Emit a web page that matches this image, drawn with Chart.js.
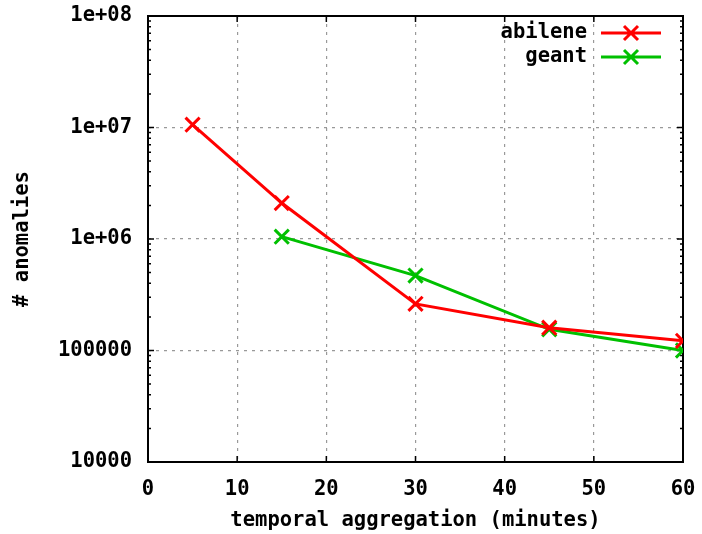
<!DOCTYPE html>
<html>
<head>
<meta charset="utf-8">
<script src="https://cdn.jsdelivr.net/npm/chart.js@4/dist/chart.umd.min.js"></script>
<style>
  html, body { margin: 0; padding: 0; background: #fff; }
  #wrap { width: 702px; height: 534px; }
</style>
</head>
<body>
<div id="wrap"><canvas id="anomalyChart" width="702" height="534"></canvas></div>
<script>
// values
const abileneX = [5, 15, 30, 45, 60];
const abileneY = [1.06e7, 2.1e6, 2.62e5, 1.6e5, 1.22e5];
const geantX = [15, 30, 45, 60];
const geantY = [1.05e6, 4.7e5, 1.55e5, 1.0e5];

const yTickValues = [1e4, 1e5, 1e6, 1e7, 1e8];
const yTickLabels = ['10000', '100000', '1e+06', '1e+07', '1e+08'];

const FONT = 'DejaVu Sans Mono';
const fontSpec = { family: FONT, size: 20.5, weight: 'bold' };

function toPoints(xs, ys) {
  return xs.map((x, i) => ({ x: x, y: ys[i] }));
}

// gnuplot-like frame: border, inward ticks on all sides, minor log ticks
const framePlugin = {
  id: 'frame',
  beforeDatasetsDraw(chart) {
    const { ctx, chartArea: a, scales } = chart;
    const xs = scales.x, ys = scales.y;
    ctx.save();
    ctx.strokeStyle = '#000';
    ctx.lineWidth = 2;
    ctx.strokeRect(a.left, a.top, a.right - a.left, a.bottom - a.top);

    ctx.lineWidth = 1.5;
    ctx.beginPath();
    for (let v = 0; v <= 60; v += 10) {
      const px = xs.getPixelForValue(v);
      ctx.moveTo(px, a.bottom); ctx.lineTo(px, a.bottom - 6);
      ctx.moveTo(px, a.top); ctx.lineTo(px, a.top + 6);
    }
    for (let d = 1e4; d <= 1e8; d *= 10) {
      for (let m = 1; m < 10; m++) {
        const v = d * m;
        if (v > 1e8) break;
        const py = ys.getPixelForValue(v);
        const len = m === 1 ? 6 : 3;
        ctx.moveTo(a.left, py); ctx.lineTo(a.left + len, py);
        ctx.moveTo(a.right, py); ctx.lineTo(a.right - len, py);
      }
    }
    ctx.stroke();
    ctx.restore();
  },
  afterDatasetsDraw(chart) {
    // legend in the upper right corner of the plot
    const { ctx, chartArea: a } = chart;
    ctx.save();
    ctx.font = 'bold 20.5px "' + FONT + '"';
    ctx.textAlign = 'right';
    ctx.textBaseline = 'middle';
    chart.data.datasets.forEach((ds, i) => {
      const y = a.top + 17 + i * 24;
      ctx.fillStyle = '#000';
      ctx.fillText(ds.label, a.right - 96, y);
      ctx.strokeStyle = ds.borderColor;
      ctx.lineWidth = 3;
      ctx.beginPath();
      ctx.moveTo(a.right - 82, y);
      ctx.lineTo(a.right - 22, y);
      const cx = a.right - 52, r = 7;
      ctx.moveTo(cx - r, y - r); ctx.lineTo(cx + r, y + r);
      ctx.moveTo(cx - r, y + r); ctx.lineTo(cx + r, y - r);
      ctx.stroke();
    });
    ctx.restore();
  }
};

const ctx = document.getElementById('anomalyChart').getContext('2d');

new Chart(ctx, {
  type: 'scatter',
  data: {
    datasets: [
      {
        label: 'abilene',
        data: toPoints(abileneX, abileneY),
        showLine: true,
        borderColor: '#ff0000',
        backgroundColor: '#ff0000',
        borderWidth: 3,
        pointStyle: 'crossRot',
        pointRadius: 10,
        pointBorderWidth: 3
      },
      {
        label: 'geant',
        data: toPoints(geantX, geantY),
        showLine: true,
        borderColor: '#00c000',
        backgroundColor: '#00c000',
        borderWidth: 3,
        pointStyle: 'crossRot',
        pointRadius: 10,
        pointBorderWidth: 3
      }
    ]
  },
  options: {
    responsive: false,
    animation: false,
    layout: { padding: { top: 16, right: 19, left: 0, bottom: 0 } },
    plugins: {
      legend: { display: false },
      tooltip: { enabled: false }
    },
    scales: {
      x: {
        type: 'linear',
        min: 0,
        max: 60,
        afterFit(scale) {
          scale.height = 72;
          scale.paddingLeft = 0;
          scale.paddingRight = 0;
        },
        ticks: { stepSize: 10, color: '#000', font: fontSpec, padding: 15, maxRotation: 0 },
        grid: { color: '#999', lineWidth: 1.2, drawTicks: false },
        border: { display: false, dash: [3, 5] },
        title: {
          display: true,
          text: 'temporal aggregation (minutes)',
          color: '#000',
          font: fontSpec,
          padding: { top: 0, bottom: 1 }
        }
      },
      y: {
        type: 'logarithmic',
        min: 1e4,
        max: 1e8,
        afterFit(scale) {
          scale.width = 148;
          scale.paddingTop = 0;
          scale.paddingBottom = 0;
        },
        afterBuildTicks(scale) {
          scale.ticks = yTickValues.map(v => ({ value: v }));
        },
        ticks: {
          color: '#000',
          font: fontSpec,
          padding: 16,
          callback(value) {
            const i = yTickValues.indexOf(value);
            return i >= 0 ? yTickLabels[i] : '';
          }
        },
        grid: { color: '#999', lineWidth: 1.2, drawTicks: false },
        border: { display: false, dash: [3, 5] },
        title: {
          display: true,
          text: '# anomalies',
          color: '#000',
          font: fontSpec,
          padding: { top: 10, bottom: 0 }
        }
      }
    }
  },
  plugins: [framePlugin]
});
</script>
</body>
</html>
